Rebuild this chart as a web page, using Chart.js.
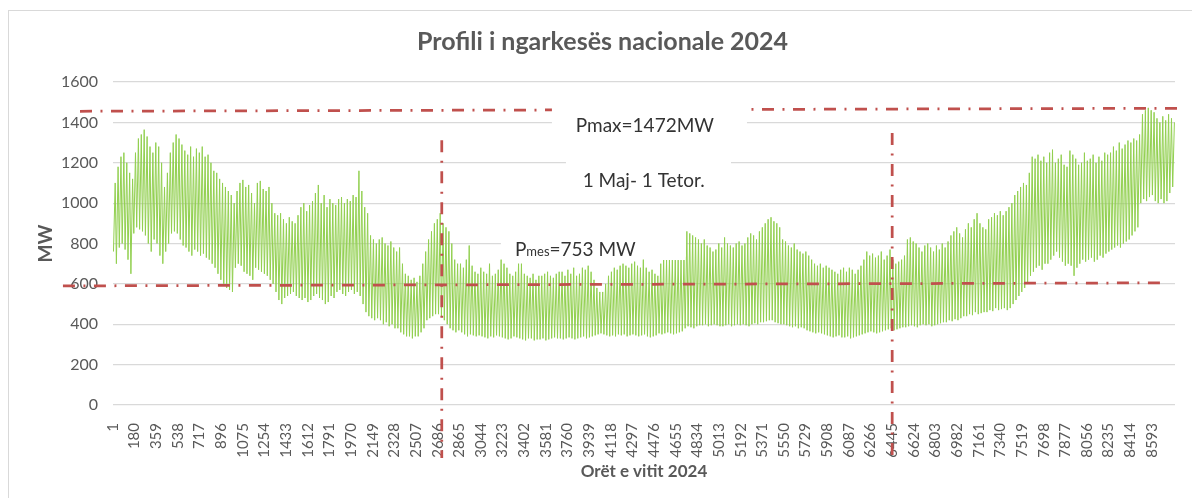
<!DOCTYPE html>
<html>
<head>
<meta charset="utf-8">
<script src="https://cdn.jsdelivr.net/npm/chart.js@4"></script>
<style>
html, body { margin: 0; padding: 0; background: #fff; }
#wrap { position: relative; width: 1192px; height: 498px; }
</style>
</head>
<body>
<div id="wrap"><canvas id="chart" width="1192" height="498"></canvas></div>
<script>
// daily peaks and lows (MW), one row per week
var dayMax = [
  1100,1180,1230,1250,1200,1150,1120,
  1250,1320,1340,1364,1330,1280,1250,
  1300,1280,1200,1080,1150,1250,1300,
  1340,1320,1290,1260,1240,1280,1230,
  1270,1250,1280,1230,1240,1200,1160,
  1150,1120,1100,1080,1060,1040,1000,
  1060,1100,1115,1080,1090,1050,1000,
  1100,1110,1070,1060,1080,1000,950,
  940,950,920,900,930,910,900,
  940,980,1000,960,990,1010,1050,
  1090,1000,1040,980,1020,1000,990,
  1020,1030,1000,1020,1010,1040,1030,
  1160,1060,980,950,840,820,800,
  820,830,800,790,810,780,760,
  780,700,650,640,620,630,610,
  640,700,760,820,860,900,920,
  950,900,880,860,800,720,700,
  700,680,720,790,690,660,650,
  680,660,650,700,640,650,670,
  720,700,680,650,640,660,700,
  700,650,640,630,650,620,640,
  640,650,660,640,630,650,660,
  660,640,670,650,680,640,650,
  680,670,690,660,620,580,560,
  560,600,640,660,680,670,690,
  700,690,680,700,710,690,680,
  720,680,660,670,650,640,700,
  718,718,718,718,718,718,718,
  718,860,850,840,830,820,800,
  820,790,780,760,770,800,780,
  830,800,790,780,800,810,790,
  800,830,850,840,820,860,880,
  900,920,930,910,900,880,820,
  810,790,780,800,770,760,750,
  760,740,720,700,690,700,680,
  690,680,670,660,650,670,680,
  660,680,670,650,670,690,720,
  760,740,750,730,740,760,720,
  740,770,720,700,710,720,740,
  820,830,810,800,780,760,790,
  800,780,760,790,770,800,780,
  810,840,860,880,850,830,870,
  900,880,920,950,900,880,870,
  920,930,950,940,960,940,960,
  980,1000,1040,1060,1080,1100,1090,
  1150,1230,1220,1240,1210,1230,1200,
  1250,1265,1200,1220,1240,1190,1180,
  1260,1240,1220,1190,1200,1250,1210,
  1220,1240,1200,1230,1210,1250,1240,
  1250,1280,1260,1300,1270,1290,1310,
  1300,1320,1310,1340,1440,1460,1472,
  1460,1450,1420,1400,1430,1410,1440,
  1420,1400
];
var dayMin = [
  760,700,780,800,770,720,650,
  850,880,870,860,840,800,760,
  820,800,740,700,760,800,850,
  860,850,820,790,780,760,740,
  770,760,740,750,730,720,700,
  680,650,620,600,580,570,560,
  680,700,690,660,650,640,620,
  680,670,660,650,640,620,600,
  560,520,500,530,540,550,560,
  540,530,520,530,510,520,540,
  550,530,520,500,510,540,530,
  560,570,550,540,560,570,550,
  560,540,500,460,440,430,420,
  430,420,400,410,390,400,380,
  380,360,350,340,340,330,340,
  340,360,380,420,430,440,450,
  450,440,420,400,380,370,360,
  370,360,350,340,350,345,340,
  345,340,335,330,340,335,345,
  340,335,330,325,330,340,335,
  330,325,320,330,330,320,325,
  325,330,320,325,330,335,330,
  330,325,330,335,330,325,330,
  335,340,330,335,340,345,350,
  355,350,345,340,345,340,350,
  345,350,340,345,350,345,340,
  345,350,340,335,340,345,355,
  350,355,360,355,350,355,360,
  365,380,390,385,380,390,395,
  395,400,390,395,400,395,390,
  390,395,400,390,395,400,395,
  400,395,390,400,405,400,410,
  410,415,420,420,410,405,400,
  400,395,390,385,390,380,385,
  380,370,365,360,355,360,355,
  350,345,340,335,340,345,335,
  335,340,330,335,340,345,350,
  355,360,365,360,355,360,365,
  370,375,380,370,375,380,385,
  385,390,395,390,385,395,400,
  395,400,390,395,400,405,410,
  410,420,415,425,420,430,440,
  440,450,445,460,450,455,460,
  460,470,465,480,470,475,480,
  470,480,500,520,540,560,580,
  600,640,660,680,690,670,700,
  700,720,740,760,730,710,690,
  700,690,640,680,700,720,710,
  720,730,710,720,740,730,750,
  760,770,780,790,780,800,810,
  820,840,860,880,1000,1020,1010,
  1030,1040,1010,1000,1020,1000,1010,
  1050,1080
];
var hourTicks = [1, 180, 359, 538, 717, 896, 1075, 1254, 1433, 1612, 1791, 1970, 2149, 2328, 2507, 2686,
  2865, 3044, 3223, 3402, 3581, 3760, 3939, 4118, 4297, 4476, 4655, 4834, 5013, 5192, 5371, 5550,
  5729, 5908, 6087, 6266, 6445, 6624, 6803, 6982, 7161, 7340, 7519, 7698, 7877, 8056, 8235, 8414, 8593];
var mwTicks = [0, 200, 400, 600, 800, 1000, 1200, 1400, 1600];

var loadPoints = [];
dayMin.forEach(function(low, d) {
  loadPoints.push({x: d * 24 + 5, y: low});
  loadPoints.push({x: d * 24 + 19, y: dayMax[d]});
});

// dash-dot reference lines, in hours / MW
var refLines = [
  {x1: -272, y1: 1455, x2: 8830, y2: 1470},
  {x1: -413, y1: 590, x2: 8690, y2: 605},
  {x1: 2720, y1: 1312, x2: 2720, y2: -262},
  {x1: 6445, y1: 1347, x2: 6445, y2: -262}
];
var noteBoxes = [
  {x1: 3631, x2: 5244, y1: 1491, y2: 1303},
  {x1: 3747, x2: 5112, y1: 1223, y2: 1015},
  {x1: 3209, x2: 4740, y1: 852, y2: 735}
];

var frame = {
  id: 'frame',
  beforeDraw: function(chart) {
    var ctx = chart.ctx;
    ctx.save();
    ctx.fillStyle = '#fff';
    ctx.fillRect(0, 0, chart.width, chart.height);
    ctx.strokeStyle = '#D9D9D9';
    ctx.lineWidth = 1;
    ctx.strokeRect(8.5, 10.5, 1200, 500);
    ctx.restore();
  }
};

var notes = {
  id: 'notes',
  afterDatasetsDraw: function(chart) {
    var ctx = chart.ctx, sx = chart.scales.x, sy = chart.scales.y;
    ctx.save();
    ctx.strokeStyle = '#C0504D';
    ctx.lineWidth = 2.75;
    ctx.setLineDash([12, 8.5, 2, 8.5]);
    refLines.forEach(function(l) {
      ctx.beginPath();
      ctx.moveTo(sx.getPixelForValue(l.x1), sy.getPixelForValue(l.y1));
      ctx.lineTo(sx.getPixelForValue(l.x2), sy.getPixelForValue(l.y2));
      ctx.stroke();
    });
    ctx.setLineDash([]);
    ctx.fillStyle = '#fff';
    noteBoxes.forEach(function(b) {
      var x1 = sx.getPixelForValue(b.x1), x2 = sx.getPixelForValue(b.x2);
      var y1 = sy.getPixelForValue(b.y1), y2 = sy.getPixelForValue(b.y2);
      ctx.fillRect(x1, y1, x2 - x1, y2 - y1);
    });
    ctx.fillStyle = '#333333';
    ctx.textBaseline = 'alphabetic';
    ctx.textAlign = 'center';
    ctx.font = '19px Lato';
    ctx.fillText('Pmax=1472MW', sx.getPixelForValue(4400), sy.getPixelForValue(1352));
    ctx.fillText('1 Maj- 1 Tetor.', sx.getPixelForValue(4390), sy.getPixelForValue(1081));
    ctx.textAlign = 'left';
    var px = sx.getPixelForValue(3325), py = sy.getPixelForValue(738);
    ctx.fillText('P', px, py);
    px += ctx.measureText('P').width;
    ctx.font = '13px Lato';
    ctx.fillText('mes', px, py);
    px += ctx.measureText('mes').width;
    ctx.font = '19px Lato';
    ctx.fillText('=753 MW', px, py);
    ctx.restore();
  }
};

var ctx = document.getElementById('chart').getContext('2d');
var chart = new Chart(ctx, {
  type: 'line',
  data: {
    datasets: [{
      data: loadPoints,
      borderColor: '#92D050',
      borderWidth: 1,
      pointRadius: 0,
      tension: 0,
      fill: false
    }]
  },
  options: {
    responsive: false,
    animation: false,
    devicePixelRatio: 1,
    layout: {padding: {left: 30, right: 17, top: 0, bottom: 0}},
    plugins: {
      legend: {display: false},
      tooltip: {enabled: false},
      title: {
        display: true,
        text: 'Profili i ngarkesës nacionale 2024',
        color: '#595959',
        font: {family: 'Lato', size: 25, weight: 'bold'},
        padding: {top: 27, bottom: 25}
      }
    },
    scales: {
      x: {
        type: 'linear',
        min: 1,
        max: 8784,
        afterBuildTicks: function(s) { s.ticks = hourTicks.map(function(v) { return {value: v}; }); },
        afterFit: function(s) { s.height = 93; },
        grid: {display: false},
        border: {display: false},
        ticks: {
          autoSkip: false, minRotation: 90, maxRotation: 90, padding: 10,
          color: '#595959', font: {family: 'Lato', size: 15},
          callback: function(v) { return String(v); }
        },
        title: {
          display: true, text: 'Orët e vitit 2024', color: '#595959',
          font: {family: 'Lato', size: 17, weight: 'bold'},
          padding: {top: 0, bottom: 16}
        }
      },
      y: {
        min: 0,
        max: 1600,
        afterBuildTicks: function(s) { s.ticks = mwTicks.map(function(v) { return {value: v}; }); },
        afterFit: function(s) { s.width = 83; },
        grid: {color: '#D9D9D9', lineWidth: 1.2, drawTicks: false},
        border: {display: false},
        ticks: {
          padding: 15, color: '#595959', font: {family: 'Lato', size: 16},
          callback: function(v) { return String(v); }
        },
        title: {
          display: true, text: 'MW', color: '#595959',
          font: {family: 'Lato', size: 19, weight: 'bold'},
          padding: {top: 4, bottom: 0}
        }
      }
    }
  },
  plugins: [frame, notes]
});
</script>
</body>
</html>
